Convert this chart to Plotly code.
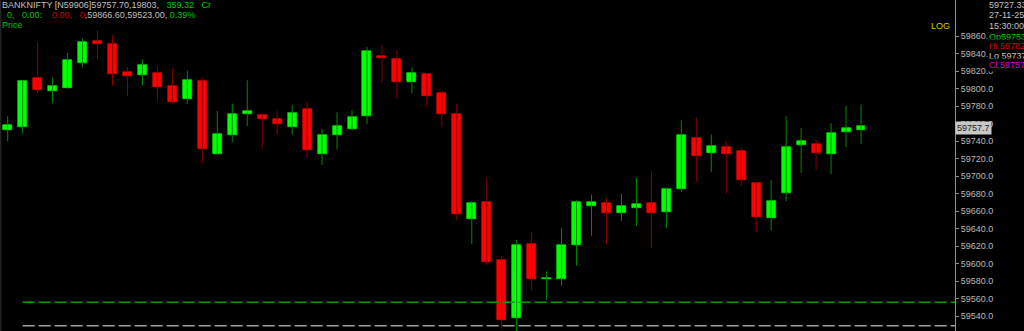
import plotly.graph_objects as go

# ---- data ----
opens = [59753.4, 59756.0, 59812.0, 59797.1, 59800.9, 59829.9, 59855.1, 59850.9, 59818.9, 59816.2,
         59817.7, 59803.2, 59788.0, 59808.9, 59725.9, 59746.9, 59771.7, 59769.7, 59765.9, 59756.0,
         59776.9, 59725.9, 59747.7, 59754.5, 59768.6, 59837.5, 59834.5, 59807.4, 59816.6, 59795.7,
         59771.7, 59651.2, 59670.3, 59603.7, 59537.7, 59622.3, 59581.9, 59581.9, 59620.8, 59666.5,
         59669.5, 59658.1, 59664.2, 59669.9, 59659.2, 59685.1, 59743.4, 59726.6, 59733.9, 59728.6,
         59692.3, 59652.0, 59680.6, 59735.8, 59737.4, 59725.9, 59750.6, 59753.0]
highs = [59768.6, 59808.9, 59853.1, 59812.8, 59840.9, 59857.4, 59866.6, 59861.1, 59824.9, 59833.7,
         59824.9, 59823.4, 59820.8, 59812.8, 59774.6, 59783.1, 59809.7, 59770.0, 59774.6, 59781.5,
         59785.4, 59753.7, 59773.1, 59775.4, 59847.8, 59850.1, 59844.0, 59824.6, 59817.4, 59797.5,
         59782.3, 59671.4, 59696.9, 59608.6, 59626.9, 59635.7, 59591.4, 59640.9, 59672.6, 59679.1,
         59675.2, 59679.8, 59698.5, 59705.7, 59687.1, 59764.0, 59767.1, 59747.7, 59740.3, 59733.1,
         59693.1, 59695.4, 59768.6, 59754.9, 59741.9, 59760.6, 59780.3, 59782.0]
lows = [59740.0, 59748.8, 59794.5, 59783.8, 59800.0, 59824.6, 59833.7, 59803.7, 59791.4, 59803.7,
        59786.1, 59783.1, 59782.3, 59714.5, 59725.0, 59739.2, 59757.5, 59731.2, 59747.7, 59747.7,
        59719.8, 59712.9, 59730.5, 59753.4, 59759.8, 59807.8, 59788.8, 59794.9, 59778.5, 59756.0,
        59649.7, 59622.3, 59598.6, 59525.5, 59523.0, 59569.7, 59558.3, 59574.6, 59597.5, 59631.8,
        59622.3, 59648.9, 59643.2, 59617.7, 59640.2, 59682.1, 59694.3, 59704.9, 59680.2, 59688.9,
        59636.3, 59637.9, 59671.4, 59703.8, 59707.2, 59702.6, 59733.5, 59737.0]
closes = [59758.3, 59808.9, 59798.3, 59802.9, 59832.9, 59853.1, 59850.9, 59816.9, 59814.6, 59826.9,
          59802.1, 59784.9, 59809.7, 59731.2, 59748.3, 59771.7, 59774.3, 59765.5, 59759.8, 59772.0,
          59730.1, 59747.2, 59757.1, 59768.2, 59842.9, 59834.9, 59807.4, 59818.1, 59791.8, 59771.2,
          59656.9, 59669.5, 59601.4, 59535.4, 59621.5, 59582.6, 59583.4, 59620.8, 59670.6, 59670.6,
          59657.4, 59666.5, 59668.0, 59658.1, 59685.1, 59746.9, 59723.2, 59734.3, 59725.1, 59696.2,
          59653.1, 59671.4, 59733.5, 59739.7, 59726.6, 59749.9, 59755.2, 59757.7]

level_green = 59556.0
level_gray = 59529.0
last_price = 59757.7
y_ticks = [59540 + 20 * k for k in range(17)]

header_1 = ["BANKNIFTY [N59906]59757.70,19803,", "359.32", "Cr"]
header_2 = ["0,", "0.00:", "0.00,", "0", ",59866.60,59523.00,", "0.39%"]
info_top = ["59727.33", "27-11-25", "15:30:00"]
info_ohlc = [("Op", "59753"), ("Hi", "59782"), ("Lo", "59737"), ("Cl", "59757")]

# ---- styling ----
UP_BODY, DN_BODY = "#00ff00", "#ff0000"
UP_WICK, DN_WICK = "#008a00", "#8a0000"
AX_TXT = "#b8b8b8"
FONT = "Liberation Sans"
W, H = 1024, 331
PLOT_R = 955  # px where the price axis starts

n = len(opens)
xs = list(range(n))

fig = go.Figure()

# wicks
for up, col in ((True, UP_WICK), (False, DN_WICK)):
    wx, wy = [], []
    for i in xs:
        if (closes[i] >= opens[i]) == up:
            wx += [i, i, None]
            wy += [lows[i], highs[i], None]
    fig.add_trace(go.Scatter(x=wx, y=wy, mode="lines", line=dict(color=col, width=1),
                             hoverinfo="skip", showlegend=False))

# bodies
fig.add_trace(go.Bar(
    x=xs, base=opens, y=[c - o for o, c in zip(opens, closes)], width=0.6,
    marker=dict(color=[UP_BODY if c >= o else DN_BODY for o, c in zip(opens, closes)],
                line=dict(width=0.6, color=[UP_BODY if c >= o else DN_BODY for o, c in zip(opens, closes)])),
    showlegend=False, hoverinfo="skip"))

x_left = -0.514
x_right = 63.28

# horizontal levels
for lvl, col in ((level_green, "#00a000"), (level_gray, "#a0a0a0")):
    fig.add_trace(go.Scatter(x=[1, x_right], y=[lvl, lvl], mode="lines",
                             line=dict(color=col, width=1.5, dash="12px,4px"),
                             hoverinfo="skip", showlegend=False))

def py(px):
    return 1 - px / H

def pxx(px):
    return px / PLOT_R

ann = []
g, r, gr = "#00c800", "#d00000", "#c0c0c0"
t1 = (f'<span style="color:{gr}">{header_1[0]}</span>\u00a0\u00a0\u00a0'
      f'<span style="color:{g}">{header_1[1]}\u00a0\u00a0\u00a0{header_1[2]}</span>')
t2 = (f'\u00a0\u00a0<span style="color:{g}">{header_2[0]}</span>\u00a0\u00a0\u00a0'
      f'<span style="color:{g}">{header_2[1]}</span>\u00a0\u00a0\u00a0\u00a0'
      f'<span style="color:{r}">{header_2[2]}</span>\u00a0\u00a0\u00a0'
      f'<span style="color:{r}">{header_2[3]}</span>'
      f'<span style="color:{gr}">{header_2[4]}</span>\u00a0'
      f'<span style="color:{g}">{header_2[5]}</span>')
for txt, yy in ((t1, 5), (t2, 15), (f'<span style="color:{g}">Price</span>', 25)):
    ann.append(dict(text=txt, x=0, y=py(yy), xref="paper", yref="paper", xanchor="left",
                    yanchor="middle", showarrow=False, font=dict(family=FONT, size=9, color=gr)))

for txt, yy in zip(info_top, (5, 15, 26)):
    ann.append(dict(text=txt, x=pxx(987), y=py(yy), xref="paper", yref="paper", xanchor="left",
                    yanchor="middle", showarrow=False, font=dict(family=FONT, size=9, color=gr)))
ohlc_cols = ["#00d000", "#d00000", "#c8c8c8", "#d000d0"]
for (lab, val), yy, col in zip(info_ohlc, (37, 46, 56, 65), ohlc_cols):
    ann.append(dict(text=f"{lab}\u00a0{val}" if lab != "Op" else f"{lab}{val}",
                    x=pxx(987), y=py(yy), xref="paper", yref="paper", xanchor="left",
                    yanchor="middle", showarrow=False, bgcolor="#000000",
                    font=dict(family=FONT, size=9, color=col)))
ann.append(dict(text="LOG", x=pxx(952), y=py(26), xref="paper", yref="paper", xanchor="right",
                yanchor="middle", showarrow=False, font=dict(family=FONT, size=9, color="#d0d000")))
ann.append(dict(text=f"{last_price:.1f}", x=pxx(955), y=last_price, xref="paper", yref="y",
                xanchor="left", yanchor="middle", showarrow=False, bgcolor="#c8c8c8",
                borderpad=1, yshift=-2, font=dict(family=FONT, size=9, color="#202020")))

fig.update_layout(
    width=W, height=H, margin=dict(l=0, r=W - PLOT_R, t=0, b=0),
    paper_bgcolor="#000000", plot_bgcolor="#000000",
    barmode="overlay", bargap=0, showlegend=False,
    xaxis=dict(range=[x_left, x_right], visible=False, showgrid=False, zeroline=False),
    yaxis=dict(range=[59523.0, 59901.5], side="right", showgrid=False, zeroline=False,
               tickvals=y_ticks, ticktext=[f"{v:.1f}" for v in y_ticks],
               ticks="outside", ticklen=3, tickcolor="#909090", showline=True,
               linecolor="#909090", linewidth=1,
               tickfont=dict(family=FONT, size=9, color=AX_TXT)),
    annotations=ann,
    shapes=[dict(type="line", xref="paper", yref="paper", x0=0.0008, x1=0.0008, y0=0, y1=1,
                 line=dict(color="#303030", width=1))],
)

fig.write_html("out.html")
